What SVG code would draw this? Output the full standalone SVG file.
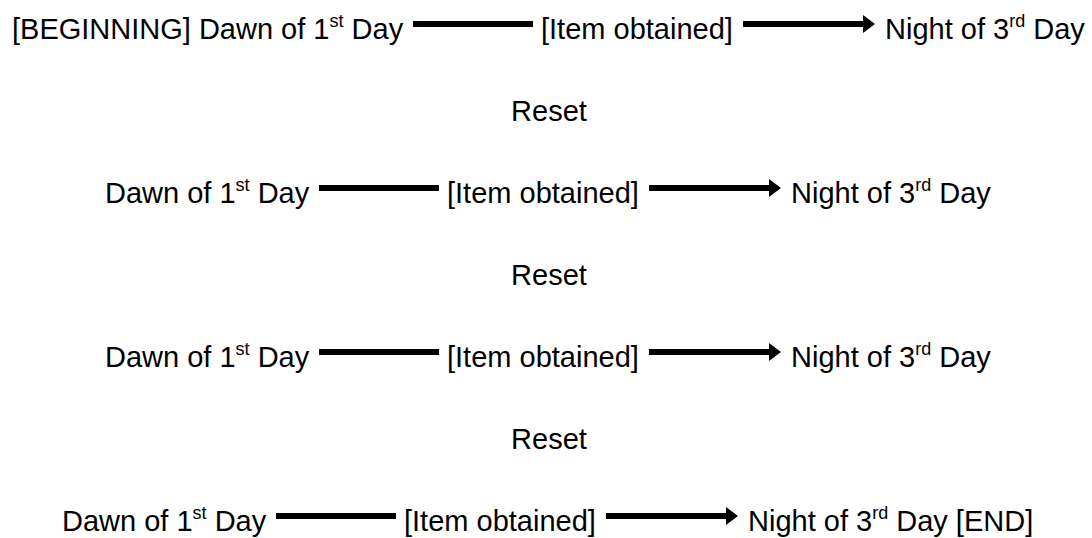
<svg xmlns="http://www.w3.org/2000/svg" width="1092" height="538" viewBox="0 0 1092 538">
  <style>
    text { font-family: "Liberation Sans", Arial, sans-serif; font-size: 29px; fill: #000; }
    .sup { font-size: 18px; }
    .mid { text-anchor: middle; }
    .conn { stroke: #000; stroke-width: 6; fill: none; }
  </style>
  <defs>
    <marker id="head" viewBox="0 0 12 18" refX="0" refY="9" markerWidth="12" markerHeight="18" markerUnits="userSpaceOnUse" orient="auto">
      <path d="M0,0 L12,9 L0,18 Z" fill="#000"/>
    </marker>
  </defs>
  <rect width="1092" height="538" fill="#fff"/>

  <g id="connectors">
    <line class="conn" x1="413" y1="24" x2="533" y2="24"/>
    <line class="conn" x1="743" y1="24" x2="863" y2="24" marker-end="url(#head)"/>
    <line class="conn" x1="319" y1="188" x2="439" y2="188"/>
    <line class="conn" x1="649" y1="188" x2="769" y2="188" marker-end="url(#head)"/>
    <line class="conn" x1="319" y1="352" x2="439" y2="352"/>
    <line class="conn" x1="649" y1="352" x2="769" y2="352" marker-end="url(#head)"/>
    <line class="conn" x1="276" y1="516" x2="396" y2="516"/>
    <line class="conn" x1="606" y1="516" x2="726" y2="516" marker-end="url(#head)"/>
  </g>

  <g id="row1-dawn"><text x="12" y="39">[BEGINNING] Dawn of 1<tspan class="sup" dy="-12">st</tspan><tspan dy="12"> Day</tspan></text></g>
  <g id="row1-item"><text x="541" y="39">[Item obtained]</text></g>
  <g id="row1-night"><text x="885" y="39">Night of 3<tspan class="sup" dy="-12">rd</tspan><tspan dy="12"> Day</tspan></text></g>

  <g id="reset1"><text class="mid" x="549" y="121">Reset</text></g>

  <g id="row2-dawn"><text x="105" y="203">Dawn of 1<tspan class="sup" dy="-12">st</tspan><tspan dy="12"> Day</tspan></text></g>
  <g id="row2-item"><text x="447" y="203">[Item obtained]</text></g>
  <g id="row2-night"><text x="791" y="203">Night of 3<tspan class="sup" dy="-12">rd</tspan><tspan dy="12"> Day</tspan></text></g>

  <g id="reset2"><text class="mid" x="549" y="285">Reset</text></g>

  <g id="row3-dawn"><text x="105" y="367">Dawn of 1<tspan class="sup" dy="-12">st</tspan><tspan dy="12"> Day</tspan></text></g>
  <g id="row3-item"><text x="447" y="367">[Item obtained]</text></g>
  <g id="row3-night"><text x="791" y="367">Night of 3<tspan class="sup" dy="-12">rd</tspan><tspan dy="12"> Day</tspan></text></g>

  <g id="reset3"><text class="mid" x="549" y="449">Reset</text></g>

  <g id="row4-dawn"><text x="62" y="531">Dawn of 1<tspan class="sup" dy="-12">st</tspan><tspan dy="12"> Day</tspan></text></g>
  <g id="row4-item"><text x="404" y="531">[Item obtained]</text></g>
  <g id="row4-night"><text x="748" y="531">Night of 3<tspan class="sup" dy="-12">rd</tspan><tspan dy="12"> Day [END]</tspan></text></g>
</svg>
